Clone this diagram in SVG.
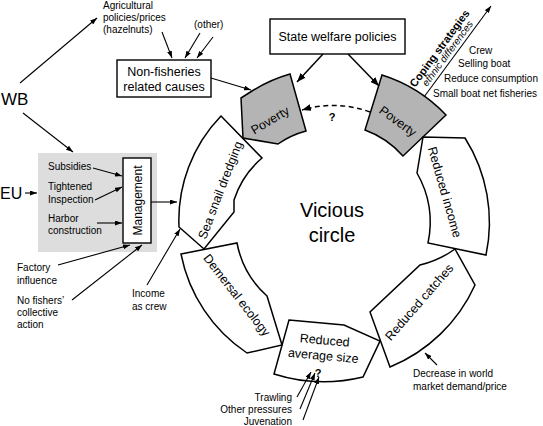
<svg xmlns="http://www.w3.org/2000/svg" width="543" height="426" viewBox="0 0 543 426">
<defs>
<marker id="ah" viewBox="0 0 9 7" refX="9" refY="3.5" markerWidth="9" markerHeight="7" markerUnits="userSpaceOnUse" orient="auto"><path d="M0,0 L9,3.5 L0,7 z" fill="#000"/></marker>
<marker id="as" viewBox="0 0 7 5" refX="7" refY="2.5" markerWidth="7" markerHeight="5" markerUnits="userSpaceOnUse" orient="auto"><path d="M0,0 L7,2.5 L0,5 z" fill="#000"/></marker>
</defs>
<style>
text{font-family:"Liberation Sans",Arial,sans-serif;fill:#000}
.s{font-size:10px}
.m{font-size:12.5px}
.seg{fill:#fff;stroke:#000;stroke-width:1.5;stroke-linejoin:miter}
.pov{fill:#b4b4b4;stroke:#000;stroke-width:1.5}
.box{fill:#fff;stroke:#000;stroke-width:1.4}
.c{fill:none;stroke:#000;stroke-width:1.1}
.ct{fill:none;stroke:#000;stroke-width:1.5}
.q{font-size:11px;font-weight:bold}
</style>
<rect x="0" y="0" width="543" height="426" fill="#fff"/>

<g id="gray-box"><rect x="38" y="153" width="119" height="99" fill="#dddddd"/></g>

<g id="state-welfare"><rect class="box" x="270" y="19" width="135" height="35"/><text class="m" x="337.5" y="41" text-anchor="middle">State welfare policies</text></g>
<g id="non-fisheries"><rect class="box" x="117" y="60" width="94" height="37"/><text class="m" x="164" y="76" text-anchor="middle">Non-fisheries</text><text class="m" x="164" y="91" text-anchor="middle">related causes</text></g>
<g id="agricultural"><text class="s" x="103" y="9">Agricultural</text><text class="s" x="103" y="21">policies/prices</text><text class="s" x="103" y="33">(hazelnuts)</text></g>
<g id="other"><text class="s" x="194" y="28">(other)</text></g>
<g id="wb"><text x="1" y="105" font-size="17">WB</text></g>
<g id="eu"><text x="0" y="199" font-size="16">EU</text></g>
<g id="subsidies"><text class="s" x="48" y="170">Subsidies</text></g>
<g id="tightened"><text class="s" x="48" y="190">Tightened</text><text class="s" x="48" y="203">Inspection</text></g>
<g id="harbor"><text class="s" x="48" y="222">Harbor</text><text class="s" x="48" y="234">construction</text></g>
<g id="management"><rect class="box" x="123" y="158" width="28" height="85"/><text class="m" transform="translate(137,200.5) rotate(-90)" x="0" y="4.5" text-anchor="middle" style="font-size:12px">Management</text></g>
<g id="factory"><text class="s" x="17" y="271">Factory</text><text class="s" x="17" y="284">influence</text></g>
<g id="no-fishers"><text class="s" x="17" y="304">No fishers’</text><text class="s" x="17" y="316">collective</text><text class="s" x="17" y="328">action</text></g>
<g id="income-crew"><text class="s" x="132" y="297">Income</text><text class="s" x="132" y="310">as crew</text></g>
<g id="pressures"><text class="s" x="292" y="401" text-anchor="end">Trawling</text><text class="s" x="292" y="413" text-anchor="end">Other pressures</text><text class="s" x="292" y="424.5" text-anchor="end">Juvenation</text></g>
<g id="decrease"><text class="s" x="413" y="377">Decrease in world</text><text class="s" x="413" y="390">market demand/price</text></g>
<g id="coping"><text class="s" x="469" y="54">Crew</text><text class="s" x="458" y="67">Selling boat</text><text class="s" x="444" y="82">Reduce consumption</text><text class="s" x="433" y="97">Small boat net fisheries</text>
<text transform="translate(415,88) rotate(-53.6)" font-size="11" font-weight="bold">Coping strategies</text>
<text transform="translate(427,87) rotate(-53.6)" font-size="10" font-style="italic">ethnic differences</text></g>
<g id="vicious"><text x="332" y="217" font-size="20" text-anchor="middle">Vicious</text><text x="332" y="242" font-size="20" text-anchor="middle">circle</text></g>

<g id="poverty-left"><path class="pov" d="M241,98 L252,91 A147,147 0 0 1 290,74 L306,131 A88,88 0 0 0 278,144 L243,138 Z"/><text class="m" transform="translate(270,120) rotate(-31)" y="4.5" text-anchor="middle">Poverty</text></g>
<g id="poverty-right"><path class="pov" d="M382,75 A150,150 0 0 1 446,115 L403,156 A93,93 0 0 0 365,130 Z"/><text class="m" transform="translate(398,121) rotate(36)" y="4.5" text-anchor="middle">Poverty</text></g>
<g id="reduced-income"><path class="seg" d="M423,137 L465,138 A158,158 0 0 1 486,255 L428,243 A100,100 0 0 0 417,173 Z"/><text class="m" transform="translate(445,192) rotate(74)" y="4.5" text-anchor="middle">Reduced income</text></g>
<g id="reduced-catches"><path class="seg" d="M455,249 L475,285 A160,160 0 0 1 390,367 L370,312 L420,265 A100,100 0 0 0 455,249 Z"/><text class="m" transform="translate(419,302) rotate(-49)" y="4.5" text-anchor="middle">Reduced catches</text></g>
<g id="reduced-size"><path class="seg" d="M289,320 L344,325 L380,341 L363,377 A165,165 0 0 1 274,374 Z"/><text class="m" transform="translate(324,348) rotate(5)" y="-3.5" text-anchor="middle">Reduced</text><text class="m" transform="translate(324,348) rotate(5)" y="12" text-anchor="middle">average size</text><text class="q" x="318" y="377" text-anchor="middle">?</text></g>
<g id="demersal"><path class="seg" d="M181,254 L237,243 A95,95 0 0 0 267,296 L282,345 L247,353 A155,155 0 0 1 181,254 Z"/><text class="m" transform="translate(237,295) rotate(52)" y="4.5" text-anchor="middle">Demersal ecology</text></g>
<g id="sea-snail"><path class="seg" d="M221,116 L262,158 A92,92 0 0 0 234,200 L234,212 L204,249 L179,227 A150,150 0 0 1 221,116 Z"/><text class="m" transform="translate(220,190) rotate(-69)" y="4.5" text-anchor="middle">Sea snail dredging</text></g>

<g id="connectors">
<line class="ct" x1="323" y1="54" x2="297" y2="82" marker-end="url(#ah)"/>
<line class="ct" x1="348" y1="54" x2="379" y2="86" marker-end="url(#ah)"/>
<path class="ct" d="M370,112 Q337,100 302,110" stroke-dasharray="5,3.5" marker-end="url(#ah)"/>
<text class="q" x="332" y="121" text-anchor="middle">?</text>
<line class="c" x1="424" y1="97" x2="491" y2="6" marker-end="url(#as)"/>
<line class="c" x1="211" y1="78" x2="251" y2="90" marker-end="url(#as)"/>
<line class="c" x1="162" y1="32" x2="172" y2="58" marker-end="url(#as)"/>
<line class="c" x1="200" y1="33" x2="185" y2="58" marker-end="url(#as)"/>
<line class="c" x1="213" y1="37" x2="197" y2="58" marker-end="url(#as)"/>
<line class="c" x1="20" y1="83" x2="97" y2="18" marker-end="url(#as)"/>
<line class="c" x1="23" y1="113" x2="73" y2="152" marker-end="url(#as)"/>
<line class="c" x1="25" y1="193" x2="37" y2="193" marker-end="url(#as)"/>
<line class="c" x1="93" y1="168" x2="122" y2="176" marker-end="url(#as)"/>
<line class="c" x1="95" y1="200" x2="122" y2="187" marker-end="url(#as)"/>
<line class="c" x1="97" y1="223" x2="122" y2="223" marker-end="url(#as)"/>
<line class="c" x1="151" y1="202" x2="177" y2="202" marker-end="url(#as)"/>
<line class="c" x1="58" y1="265" x2="130" y2="245" marker-end="url(#as)"/>
<line class="c" x1="72" y1="300" x2="142" y2="245" marker-end="url(#as)"/>
<line class="c" x1="147" y1="285" x2="180" y2="229" marker-end="url(#as)"/>
<line class="c" x1="437" y1="365" x2="425" y2="353" marker-end="url(#as)"/>
<line class="c" x1="297" y1="397" x2="311" y2="372" marker-end="url(#as)"/>
<line class="c" x1="300" y1="409" x2="315" y2="373" marker-end="url(#as)"/>
<line class="c" x1="303" y1="420" x2="319" y2="377" marker-end="url(#as)"/>
</g>
</svg>
